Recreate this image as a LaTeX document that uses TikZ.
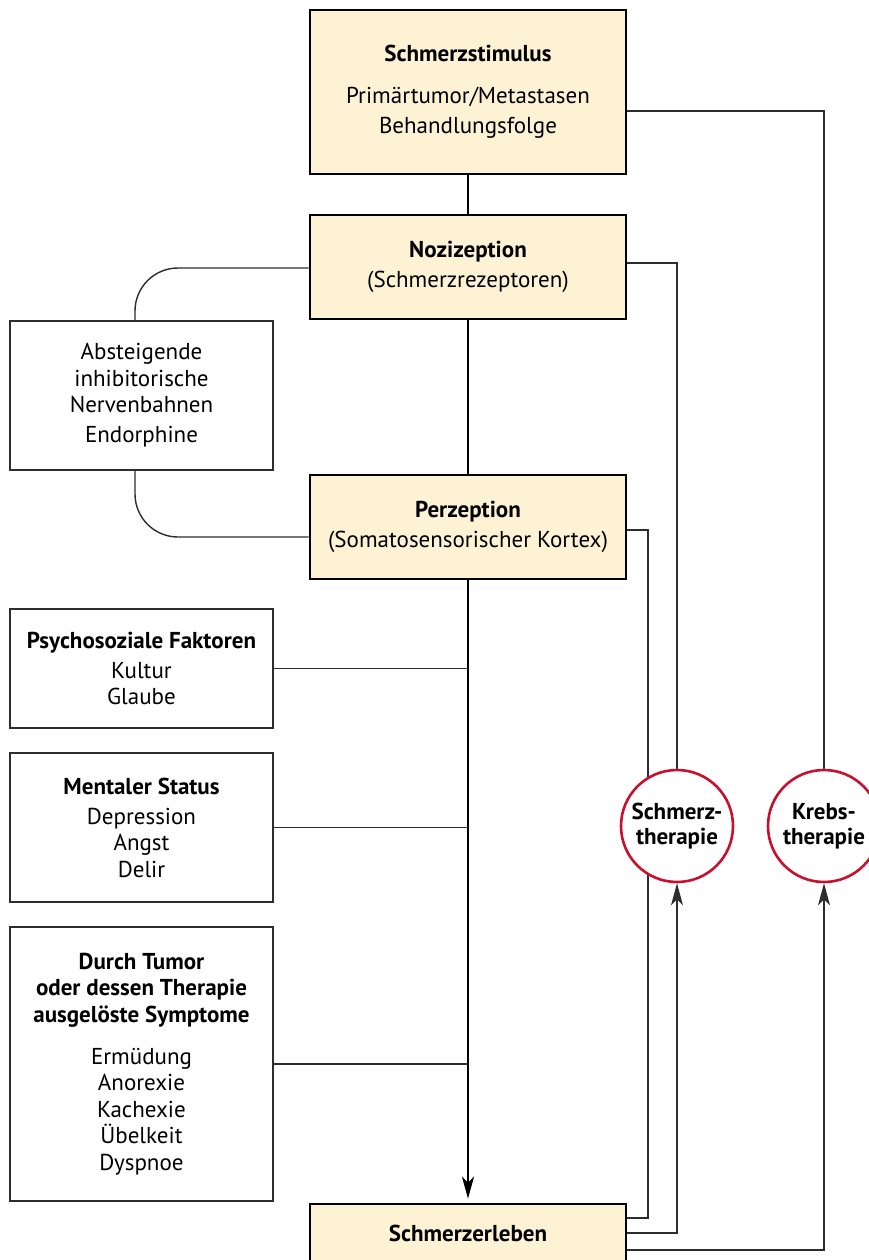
\documentclass[tikz,border=0pt]{standalone}
\usepackage{fontspec}
\setmainfont{PT Sans}
\usetikzlibrary{arrows.meta,calc,backgrounds}
\definecolor{boxyellow}{RGB}{253,243,212}
\definecolor{ringred}{RGB}{200,16,46}
\definecolor{linegray}{RGB}{45,45,45}
\begin{document}
\begin{tikzpicture}[x=1pt,y=-1pt,
  txt/.style={font=\fontsize{23}{26.5}\selectfont},
  mainbox/.style={txt, draw=black, line width=2.6pt, fill=boxyellow, minimum width=316pt, align=center, inner sep=0pt},
  sidebox/.style={txt, draw=linegray, line width=1.5pt, fill=white, minimum width=263pt, align=center, inner sep=0pt},
  thera/.style={circle, draw=ringred, line width=2.6pt, fill=white, minimum size=112pt, inner sep=0pt, align=center, font=\fontsize{23}{25}\selectfont\bfseries},
  conn/.style={draw=linegray, line width=1.4pt},
  spine/.style={draw=black, line width=2.8pt},
  tip/.style={-{Stealth[length=22pt,width=12pt,inset=6pt]}}
]
\useasboundingbox (0,0) rectangle (869,1260);
\clip (0,0) rectangle (869,1260);

% main column
\node[mainbox, minimum height=164pt] (stim) at (468,92)
  {{\bfseries Schmerzstimulus}\\[15.5pt]Primärtumor/Metastasen\\[3.5pt]Behandlungsfolge};
\node[mainbox, minimum height=104pt] (noz) at (468,267)
  {{\bfseries Nozizeption}\\[3.5pt](Schmerzrezeptoren)};
\node[mainbox, minimum height=104pt] (perz) at (468,527)
  {{\bfseries Perzeption}\\[3.5pt](Somatosensorischer Kortex)};
\node[mainbox, minimum height=58pt] (erleben) at (468,1233)
  {{\bfseries Schmerzerleben}};

% side boxes
\node[sidebox, minimum height=149pt] (absteig) at (141.5,395.5)
  {Absteigende\\inhibitorische\\Nervenbahnen\\[3.5pt]Endorphine};
\node[sidebox, minimum height=119pt] (psycho) at (141.5,668.5)
  {{\bfseries Psychosoziale Faktoren}\\[3.5pt]Kultur\\Glaube};
\node[sidebox, minimum height=149pt] (mental) at (141.5,827.5)
  {{\bfseries Mentaler Status}\\[3.5pt]Depression\\Angst\\Delir};
\node[sidebox, minimum height=274pt] (durch) at (141.5,1064)
  {{\bfseries Durch Tumor}\\{\bfseries oder dessen Therapie}\\{\bfseries ausgelöste Symptome}\\[15.5pt]Ermüdung\\Anorexie\\Kachexie\\Übelkeit\\Dyspnoe};

% therapy circles
\node[thera] (schmerz) at (677,826) {Schmerz-\\therapie};
\node[thera] (krebs) at (824,826) {Krebs-\\therapie};

% helper coordinates
\coordinate (lx) at (135,0);
\coordinate (rx) at (648,0);
\coordinate (e1) at ($(erleben.east)+(0,-15)$);
\coordinate (e2) at (erleben.east);
\coordinate (e3) at ($(erleben.east)+(0,17)$);

\begin{pgfonlayer}{background}
% spine
\draw[spine] (stim.south) -- (noz.north);
\draw[spine] (noz.south) -- (perz.north);
\draw[spine, tip] (perz.south) -- ($(erleben.north)+(0,-4)$);

% side inputs
\draw[conn] (psycho.east) -- (psycho.east -| perz.south);
\draw[conn] (mental.east) -- (mental.east -| perz.south);
\draw[conn] (durch.east) -- (durch.east -| perz.south);

% descending inhibition loop
\draw[conn, rounded corners=43pt] ($(noz.west)+(0,1)$) -| (lx |- absteig.north);
\draw[conn, rounded corners=43pt] (lx |- absteig.south) |- ($(perz.west)+(0,10)$);

% feedback lines
\draw[conn] ($(stim.east)+(0,19)$) -| (krebs.north);
\draw[conn] ($(noz.east)+(0,-4)$) -| (schmerz.north);
\draw[conn] ($(perz.east)+(0,3)$) -| (rx |- e1) -- (e1);
\draw[conn, tip] (e2) -| (schmerz.south);
\draw[conn, tip] (e3) -| (krebs.south);
\end{pgfonlayer}
\end{tikzpicture}
\end{document}
